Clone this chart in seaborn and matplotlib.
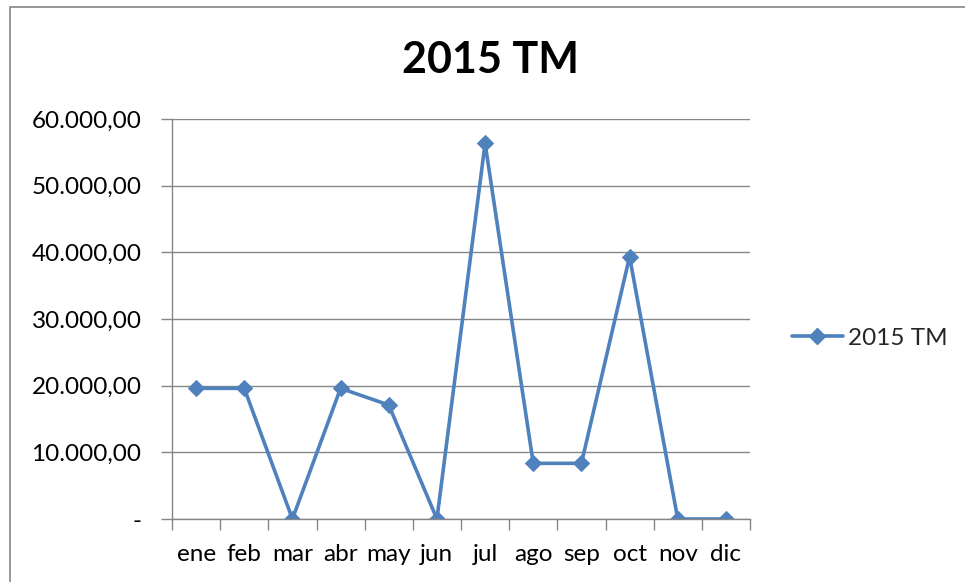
import matplotlib
matplotlib.use('Agg')
import matplotlib.pyplot as plt
import seaborn as sns
import numpy as np
import pandas as pd
from matplotlib.ticker import FuncFormatter, FixedLocator
from matplotlib.patches import Rectangle

meses = ['ene', 'feb', 'mar', 'abr', 'may', 'jun', 'jul', 'ago', 'sep', 'oct', 'nov', 'dic']
toneladas = [19600, 19600, 0, 19600, 17100, 0, 56350, 8350, 8350, 39350, 0, 0]
serie = '2015 TM'
y_ticks = [0, 10000, 20000, 30000, 40000, 50000, 60000]

azul = '#4F81BD'
gris = '#868686'

sns.set_style('white')
plt.rcParams['font.family'] = ['Lato', 'DejaVu Sans']

df = pd.DataFrame({'mes': np.arange(len(meses)), 'valor': toneladas, 'serie': serie})

fig = plt.figure(figsize=(9.65, 5.82), dpi=100)
ax = fig.add_axes([172 / 965, 1 - 519 / 582, (750 - 172) / 965, (519 - 119) / 582])

sns.lineplot(data=df, x='mes', y='valor', hue='serie', palette=[azul], marker='D',
             markersize=8, markeredgecolor=azul, linewidth=2.6, ax=ax, legend=False)

ax.set_xlim(-0.5, len(meses) - 0.5)
ax.set_ylim(0, 60000)
ax.set_yticks(y_ticks)


def formato(v, pos):
    if v == 0:
        return '-'
    s = f'{v:,.2f}'
    return s.replace(',', 'X').replace('.', ',').replace('X', '.')


ax.yaxis.set_major_formatter(FuncFormatter(formato))
ax.set_xticks(np.arange(len(meses)))
ax.set_xticklabels(meses)
ax.xaxis.set_minor_locator(FixedLocator(np.arange(-0.5, len(meses), 1)))
ax.tick_params(axis='x', which='major', length=0, pad=18, labelsize=17.5, colors='#000000')
ax.tick_params(axis='x', which='minor', length=8, width=1, color=gris, bottom=True)
ax.tick_params(axis='y', which='major', length=8, width=1, color=gris, left=True, pad=14,
               labelsize=17.5, labelcolor='#000000')
ax.yaxis.grid(True, color=gris, linewidth=1)
ax.set_axisbelow(True)
ax.set_xlabel('')
ax.set_ylabel('')
for lado in ['top', 'right']:
    ax.spines[lado].set_visible(False)
for lado in ['left', 'bottom']:
    ax.spines[lado].set_color(gris)
    ax.spines[lado].set_linewidth(1)

fig.text(490 / 965, 1 - 60 / 582, serie, ha='center', va='center', fontsize=31,
         fontweight='bold', color='#000000')

# leyenda fuera del area de trazado
h = plt.Line2D([], [], color=azul, linewidth=2.6, marker='D', markersize=8)
fig.legend([h], [serie], loc='center left', bbox_to_anchor=(770 / 965, 1 - 338 / 582),
           frameon=False, fontsize=17.5, handlelength=2.1, handletextpad=0.2)

# borde del grafico
fig.patches.append(Rectangle((10 / 965, -0.1), 1.2, 1 - 7 / 582 + 0.1, transform=fig.transFigure,
                             fill=False, edgecolor=gris, linewidth=1.2))

plt.savefig('out.png', dpi=100)
plt.close()
